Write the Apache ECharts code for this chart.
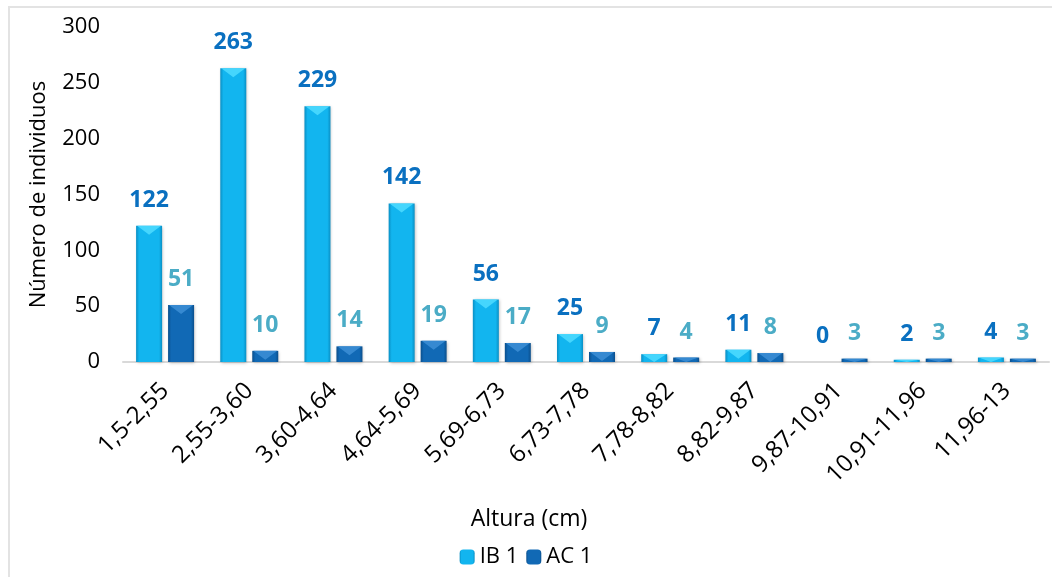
<!DOCTYPE html>
<html>
<head>
<meta charset="utf-8">
<script src="https://cdn.jsdelivr.net/npm/echarts@6/dist/echarts.min.js"></script>
<style>
  html, body { margin: 0; padding: 0; background: #fff; }
  #frame { position: absolute; left: 8px; top: 6px; width: 1060px; height: 590px; border: 2px solid #e3e3e3; box-sizing: border-box; }
  #chart { position: absolute; left: 0; top: 0; width: 1052px; height: 577px; }
</style>
</head>
<body>
<div id="frame"></div>
<div id="chart"></div>
<script>
// Height classes (cm)
const categories = ['1,5-2,55', '2,55-3,60', '3,60-4,64', '4,64-5,69', '5,69-6,73', '6,73-7,78',
  '7,78-8,82', '8,82-9,87', '9,87-10,91', '10,91-11,96', '11,96-13'];
// Number of individuals per class
const ib1 = [122, 263, 229, 142, 56, 25, 7, 11, 0, 2, 4];
const ac1 = [51, 10, 14, 19, 17, 9, 4, 8, 3, 3, 3];
const yTicks = [0, 50, 100, 150, 200, 250, 300];

const FONT = '"Open Sans", "Noto Sans", sans-serif';
const BAR_W = 26;
const PAIR_OFFSET = 16; // centre of each bar relative to the category centre

function barFill(edge, mid) {
  return new echarts.graphic.LinearGradient(0, 0, 1, 0, [
    { offset: 0, color: edge },
    { offset: 0.12, color: mid },
    { offset: 0.88, color: mid },
    { offset: 1, color: edge }
  ]);
}

// Bevelled highlight on the top of each bar (inverted triangle)
function capSeries(name, values, dx, light) {
  return {
    name: name,
    type: 'custom',
    silent: true,
    z: 3,
    data: values.map((v, i) => [i, v]),
    renderItem: function (params, api) {
      const v = api.value(1);
      const top = api.coord([api.value(0), v]);
      const base = api.coord([api.value(0), 0]);
      const h = base[1] - top[1];
      if (h <= 0.5) return null;
      const capH = Math.min(9, h);
      const cx = top[0] + dx;
      const x0 = cx - BAR_W / 2 + 1, x1 = cx + BAR_W / 2 - 1;
      return {
        type: 'polygon',
        shape: { points: [[x0, top[1]], [x1, top[1]], [cx, top[1] + capH]] },
        style: { fill: light, opacity: 0.85 }
      };
    }
  };
}

const chart = echarts.init(document.getElementById('chart'), null, { renderer: 'canvas' });
chart.setOption({
  backgroundColor: 'transparent',
  animation: false,
  textStyle: { fontFamily: FONT },
  grid: { left: 123, right: 3, top: 27, bottom: 215 },
  legend: {
    bottom: 4,
    left: 'center',
    itemWidth: 15,
    itemHeight: 15,
    itemGap: 8,
    textStyle: { fontSize: 22, color: '#000', fontFamily: FONT },
    data: ['IB 1', 'AC 1']
  },
  xAxis: {
    type: 'category',
    data: categories,
    name: 'Altura (cm)',
    nameLocation: 'middle',
    nameGap: 146,
    // title sits centred on the whole chart rather than on the plot area
    nameTextStyle: { fontSize: 23, color: '#000', padding: [0, 114, 0, 0] },
    axisLine: { lineStyle: { color: '#d9d9d9', width: 2 } },
    axisTick: { show: false },
    axisLabel: { rotate: 45, fontSize: 24, color: '#000', margin: 25, interval: 0 }
  },
  yAxis: {
    type: 'value',
    min: 0,
    max: yTicks[yTicks.length - 1],
    interval: yTicks[1] - yTicks[0],
    name: 'Número de individuos',
    nameLocation: 'middle',
    nameGap: 73,
    nameTextStyle: { fontSize: 22, color: '#000' },
    axisLine: { show: false },
    axisTick: { show: false },
    splitLine: { show: false },
    axisLabel: { fontSize: 22, color: '#000', margin: 23 }
  },
  series: [
    {
      name: 'IB 1',
      type: 'bar',
      data: ib1,
      barWidth: BAR_W,
      barGap: '23%',
      itemStyle: {
        color: barFill('#0a8fc4', '#12b5ef'),
        shadowColor: 'rgba(0,0,0,0.25)',
        shadowBlur: 3,
        shadowOffsetX: 1,
        shadowOffsetY: 1
      },
      label: {
        show: true,
        position: 'top',
        distance: 14,
        fontSize: 23,
        fontWeight: 'bold',
        color: '#0a70c0'
      }
    },
    {
      name: 'AC 1',
      type: 'bar',
      data: ac1,
      barWidth: BAR_W,
      itemStyle: {
        color: barFill('#0b4f8c', '#1169b5'),
        shadowColor: 'rgba(0,0,0,0.25)',
        shadowBlur: 3,
        shadowOffsetX: 1,
        shadowOffsetY: 1
      },
      label: {
        show: true,
        position: 'top',
        distance: 14,
        fontSize: 23,
        fontWeight: 'bold',
        color: '#4bacc6'
      }
    },
    capSeries('IB 1 cap', ib1, -PAIR_OFFSET, '#4fdcff'),
    capSeries('AC 1 cap', ac1, PAIR_OFFSET, '#3d8fd6')
  ]
});
</script>
</body>
</html>
